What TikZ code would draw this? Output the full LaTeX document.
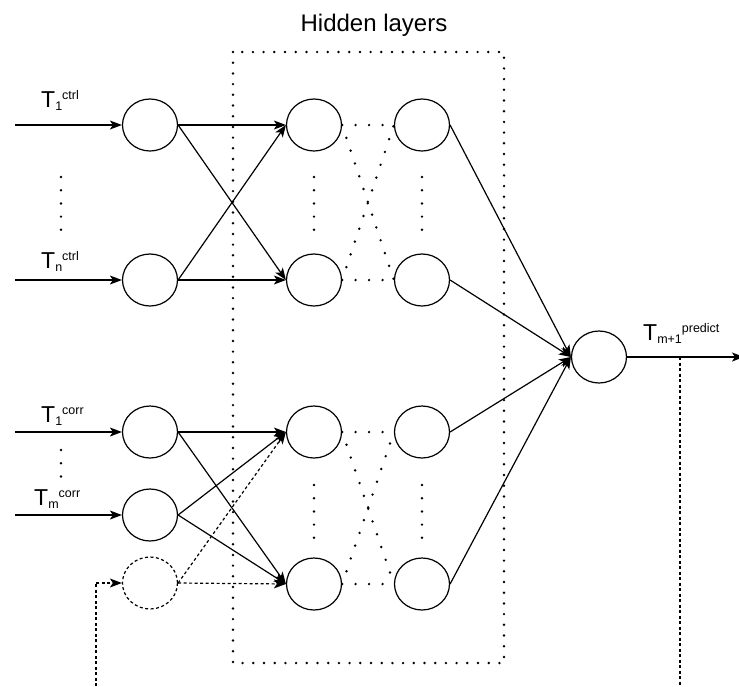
\documentclass[tikz,border=0pt]{standalone}
\usepackage{fontspec}
\setmainfont{Liberation Sans}
\usetikzlibrary{shapes.geometric,arrows.meta}
\newcommand{\tlbl}[2]{{\fontsize{23}{23}\selectfont T}\raisebox{-3pt}{\fontsize{12.5}{12.5}\selectfont #1}\raisebox{8pt}{\fontsize{12.5}{12.5}\selectfont #2}}
\begin{document}
\begin{tikzpicture}[x=1pt,y=-1pt,
  neuron/.style={ellipse,draw,line width=1.2pt,minimum width=55pt,minimum height=52pt,inner sep=0pt},
  ghost/.style={neuron,dash pattern=on 3pt off 2.5pt},
  conn/.style={line width=1.2pt,-{Stealth[length=12pt,width=9pt,inset=3pt]}},
  dconn/.style={conn,dash pattern=on 3pt off 2.5pt},
  dline/.style={line width=1.2pt,dash pattern=on 3pt off 2.5pt},
  dotl/.style={line width=2.7pt,line cap=round,dash pattern=on 0pt off 13.5pt},
  dotc/.style={line width=2.7pt,line cap=round,dash pattern=on 0pt off 13.2pt},
  boxdot/.style={line width=2.7pt,line cap=round,dash pattern=on 0pt off 10.7pt},
  lbl/.style={anchor=base west,inner sep=0pt}]
\useasboundingbox (0,0) rectangle (739,686);
% input nodes
\node[neuron] (i1) at (150,125) {};
\node[neuron] (in) at (150,280) {};
\node[neuron] (c1) at (150,432) {};
\node[neuron] (cm) at (150,515) {};
\node[ghost]  (cd) at (150,583) {};
% hidden nodes
\node[neuron] (h1) at (314,125) {};
\node[neuron] (h2) at (314,280) {};
\node[neuron] (h3) at (314,432) {};
\node[neuron] (h4) at (314,584) {};
\node[neuron] (g1) at (422,125) {};
\node[neuron] (g2) at (422,280) {};
\node[neuron] (g3) at (422,432) {};
\node[neuron] (g4) at (422,584) {};
% output
\node[neuron] (o) at (599,357) {};
% title and labels
\node[anchor=base,inner sep=0pt,font=\fontsize{24}{24}\selectfont] (title) at (374,31) {Hidden layers};
\node[lbl] (l1) at (41,107) {\tlbl{1}{ctrl}};
\node[lbl] (l2) at (41,268) {\tlbl{n}{ctrl}};
\node[lbl] (l3) at (41,422) {\tlbl{1}{corr}};
\node[lbl] (l4) at (34,505) {\tlbl{m}{corr}};
\node[lbl] (l5) at (643,340) {\tlbl{m+1}{predict}};
% coordinates for free ends
\coordinate (s1) at (15,125);
\coordinate (s2) at (15,280);
\coordinate (s3) at (15,432);
\coordinate (s4) at (15,515);
\coordinate (fbL) at (96,686);
\coordinate (fbC) at (96,583);
\coordinate (oEnd) at (744,357);
\coordinate (tap) at (680,357);
\coordinate (fbR) at (680,686);
% input arrows
\draw[conn] (s1) -- (i1.west);
\draw[conn] (s2) -- (in.west);
\draw[conn] (s3) -- (c1.west);
\draw[conn] (s4) -- (cm.west);
\draw[dline] (fbL) -- (fbC);
\draw[dconn] (fbC) -- (cd.west);
% input to hidden
\draw[conn] (i1.east) -- (h1.west);
\draw[conn] (i1.east) -- (h2.west);
\draw[conn] (in.east) -- (h1.west);
\draw[conn] (in.east) -- (h2.west);
\draw[conn] (c1.east) -- (h3.west);
\draw[conn] (c1.east) -- (h4.west);
\draw[conn] (cm.east) -- (h3.west);
\draw[conn] (cm.east) -- (h4.west);
\draw[dconn] (cd.east) -- (h3.west);
\draw[dconn] (cd.east) -- (h4.west);
% hidden to hidden (dotted)
\draw[dotl] (h1.east) -- (g1.west);
\draw[dotl] (h1.east) -- (g2.west);
\draw[dotl] (h2.east) -- (g1.west);
\draw[dotl] (h2.east) -- (g2.west);
\draw[dotl] (h3.east) -- (g3.west);
\draw[dotl] (h3.east) -- (g4.west);
\draw[dotl] (h4.east) -- (g3.west);
\draw[dotl] (h4.east) -- (g4.west);
% hidden to output
\draw[conn] (g1.east) -- (o.west);
\draw[conn] (g2.east) -- (o.west);
\draw[conn] (g3.east) -- (o.west);
\draw[conn] (g4.east) -- (o.west);
\draw[conn] (o.east) -- (oEnd);
\draw[dline] (tap) -- (fbR);
% vertical ellipsis dots
\draw[dotc] (61,177) -- (61,230);
\draw[dotc] (61,450) -- (61,477);
\draw[dotc] (314,177) -- (314,230);
\draw[dotc] (422,177) -- (422,230);
\draw[dotc] (314,485) -- (314,538);
\draw[dotc] (422,485) -- (422,538);
% hidden layers box
\draw[boxdot] (233,52) rectangle (504,663);
\end{tikzpicture}
\end{document}
